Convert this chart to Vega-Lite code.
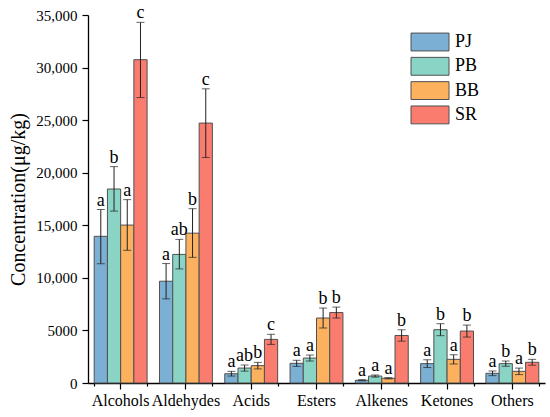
{
  "$schema": "https://vega.github.io/schema/vega-lite/v6.json",
  "width": 457,
  "height": 368,
  "autosize": {"type": "none"},
  "padding": {"left": 88, "top": 15, "right": 5, "bottom": 34},
  "background": "white",
  "data": {
    "values": [
      {"class": "Alcohols", "group": "PJ", "mean": 13950, "lo": 11350, "hi": 16500, "sig": "a"},
      {"class": "Alcohols", "group": "PB", "mean": 18450, "lo": 16350, "hi": 20580, "sig": "b"},
      {"class": "Alcohols", "group": "BB", "mean": 15020, "lo": 12620, "hi": 17440, "sig": "a"},
      {"class": "Alcohols", "group": "SR", "mean": 30750, "lo": 27150, "hi": 34300, "sig": "c"},
      {"class": "Aldehydes", "group": "PJ", "mean": 9680, "lo": 8000, "hi": 11360, "sig": "a"},
      {"class": "Aldehydes", "group": "PB", "mean": 12230, "lo": 10850, "hi": 13660, "sig": "ab"},
      {"class": "Aldehydes", "group": "BB", "mean": 14250, "lo": 11950, "hi": 16580, "sig": "b"},
      {"class": "Aldehydes", "group": "SR", "mean": 24720, "lo": 21450, "hi": 27980, "sig": "c"},
      {"class": "Acids", "group": "PJ", "mean": 880, "lo": 660, "hi": 1110, "sig": "a"},
      {"class": "Acids", "group": "PB", "mean": 1420, "lo": 1130, "hi": 1710, "sig": "ab"},
      {"class": "Acids", "group": "BB", "mean": 1650, "lo": 1340, "hi": 1960, "sig": "b"},
      {"class": "Acids", "group": "SR", "mean": 4150, "lo": 3670, "hi": 4630, "sig": "c"},
      {"class": "Esters", "group": "PJ", "mean": 1870, "lo": 1580, "hi": 2160, "sig": "a"},
      {"class": "Esters", "group": "PB", "mean": 2370, "lo": 2090, "hi": 2660, "sig": "a"},
      {"class": "Esters", "group": "BB", "mean": 6180, "lo": 5230, "hi": 7130, "sig": "b"},
      {"class": "Esters", "group": "SR", "mean": 6700, "lo": 6180, "hi": 7220, "sig": "b"},
      {"class": "Alkenes", "group": "PJ", "mean": 260, "lo": 210, "hi": 310, "sig": "a"},
      {"class": "Alkenes", "group": "PB", "mean": 660, "lo": 560, "hi": 760, "sig": "a"},
      {"class": "Alkenes", "group": "BB", "mean": 450, "lo": 390, "hi": 510, "sig": "a"},
      {"class": "Alkenes", "group": "SR", "mean": 4520, "lo": 3980, "hi": 5060, "sig": "b"},
      {"class": "Ketones", "group": "PJ", "mean": 1840, "lo": 1470, "hi": 2210, "sig": "a"},
      {"class": "Ketones", "group": "PB", "mean": 5070, "lo": 4500, "hi": 5640, "sig": "b"},
      {"class": "Ketones", "group": "BB", "mean": 2250, "lo": 1810, "hi": 2690, "sig": "a"},
      {"class": "Ketones", "group": "SR", "mean": 4940, "lo": 4370, "hi": 5510, "sig": "b"},
      {"class": "Others", "group": "PJ", "mean": 920, "lo": 700, "hi": 1140, "sig": "a"},
      {"class": "Others", "group": "PB", "mean": 1840, "lo": 1590, "hi": 2090, "sig": "b"},
      {"class": "Others", "group": "BB", "mean": 1110, "lo": 800, "hi": 1420, "sig": "a"},
      {"class": "Others", "group": "SR", "mean": 1970, "lo": 1690, "hi": 2250, "sig": "b"}
    ]
  },
  "layer": [
    {
      "encoding": {
        "x": {
          "field": "class",
          "type": "nominal",
          "sort": null,
          "scale": {"paddingInner": 0.19, "paddingOuter": 0.095},
          "axis": {
            "title": null,
            "labelAngle": 0,
            "labelFont": "Liberation Serif",
            "labelFontSize": 16,
            "labelColor": "black",
            "labelPadding": 3,
            "tickSize": 6,
            "tickColor": "black",
            "tickWidth": 1.2,
            "domainColor": "black",
            "domainWidth": 1.3
          }
        },
        "xOffset": {
          "field": "group",
          "type": "nominal",
          "sort": ["PJ", "PB", "BB", "SR"],
          "scale": {"paddingInner": 0, "paddingOuter": 0}
        }
      },
      "layer": [
        {
          "mark": {"type": "bar", "stroke": "#505050", "strokeWidth": 1},
          "encoding": {
            "y": {
              "field": "mean",
              "type": "quantitative",
              "scale": {"domain": [0, 35000], "nice": false},
              "axis": {
                "title": "Concentration(μg/kg)",
                "titleFont": "Liberation Serif",
                "titleFontSize": 20,
                "titleFontWeight": "normal",
                "titleColor": "black",
                "titlePadding": 7,
                "values": [0, 2500, 5000, 7500, 10000, 12500, 15000, 17500, 20000, 22500, 25000, 27500, 30000, 32500, 35000],
                "labelExpr": "datum.value % 5000 !== 0 ? '' : (datum.value >= 10000 ? format(datum.value, ',') : format(datum.value, 'd'))",
                "labelFont": "Liberation Serif",
                "labelFontSize": 15,
                "labelColor": "black",
                "labelPadding": 5,
                "tickSize": {"condition": {"test": "datum.value % 5000 === 0", "value": 6}, "value": 3},
                "tickColor": "black",
                "tickWidth": 1.2,
                "domainColor": "black",
                "domainWidth": 1.3,
                "grid": false
              }
            },
            "color": {
              "field": "group",
              "type": "nominal",
              "sort": ["PJ", "PB", "BB", "SR"],
              "scale": {
                "domain": ["PJ", "PB", "BB", "SR"],
                "range": ["#7bafd4", "#89d4c5", "#fcb15f", "#f97c6f"]
              },
              "legend": {
                "title": null,
                "orient": "none",
                "legendX": 332,
                "legendY": 17,
                "padding": 0,
                "symbolType": "M-2,-0.94H2V0.94H-2Z",
                "symbolSize": 361,
                "symbolStrokeColor": "#505050",
                "symbolStrokeWidth": 1,
                "symbolOpacity": 1,
                "labelFont": "Liberation Serif",
                "labelFontSize": 18,
                "labelColor": "black",
                "labelOffset": 15,
                "rowPadding": 2.3
              }
            }
          }
        },
        {
          "mark": {"type": "rule", "color": "#222222", "strokeWidth": 1},
          "encoding": {
            "y": {"field": "lo", "type": "quantitative"},
            "y2": {"field": "hi"}
          }
        },
        {
          "mark": {"type": "tick", "color": "#222222", "thickness": 1, "size": 8, "orient": "horizontal"},
          "encoding": {
            "y": {"field": "lo", "type": "quantitative"}
          }
        },
        {
          "mark": {"type": "tick", "color": "#222222", "thickness": 1, "size": 8, "orient": "horizontal"},
          "encoding": {
            "y": {"field": "hi", "type": "quantitative"}
          }
        },
        {
          "mark": {"type": "text", "font": "Liberation Serif", "fontSize": 18, "color": "black", "baseline": "alphabetic", "dy": -4},
          "encoding": {
            "y": {"field": "hi", "type": "quantitative"},
            "text": {"field": "sig"}
          }
        }
      ]
    },
    {
      "mark": {"type": "rule", "opacity": 0},
      "encoding": {
        "x": {
          "field": "class",
          "type": "nominal",
          "sort": null,
          "axis": {
            "orient": "bottom",
            "title": null,
            "labels": false,
            "domain": false,
            "tickBand": "extent",
            "tickSize": 3,
            "tickColor": "black",
            "tickWidth": 1.2
          }
        }
      }
    }
  ],
  "resolve": {"axis": {"x": "independent"}},
  "config": {
    "font": "Liberation Serif",
    "view": {"stroke": null}
  }
}
